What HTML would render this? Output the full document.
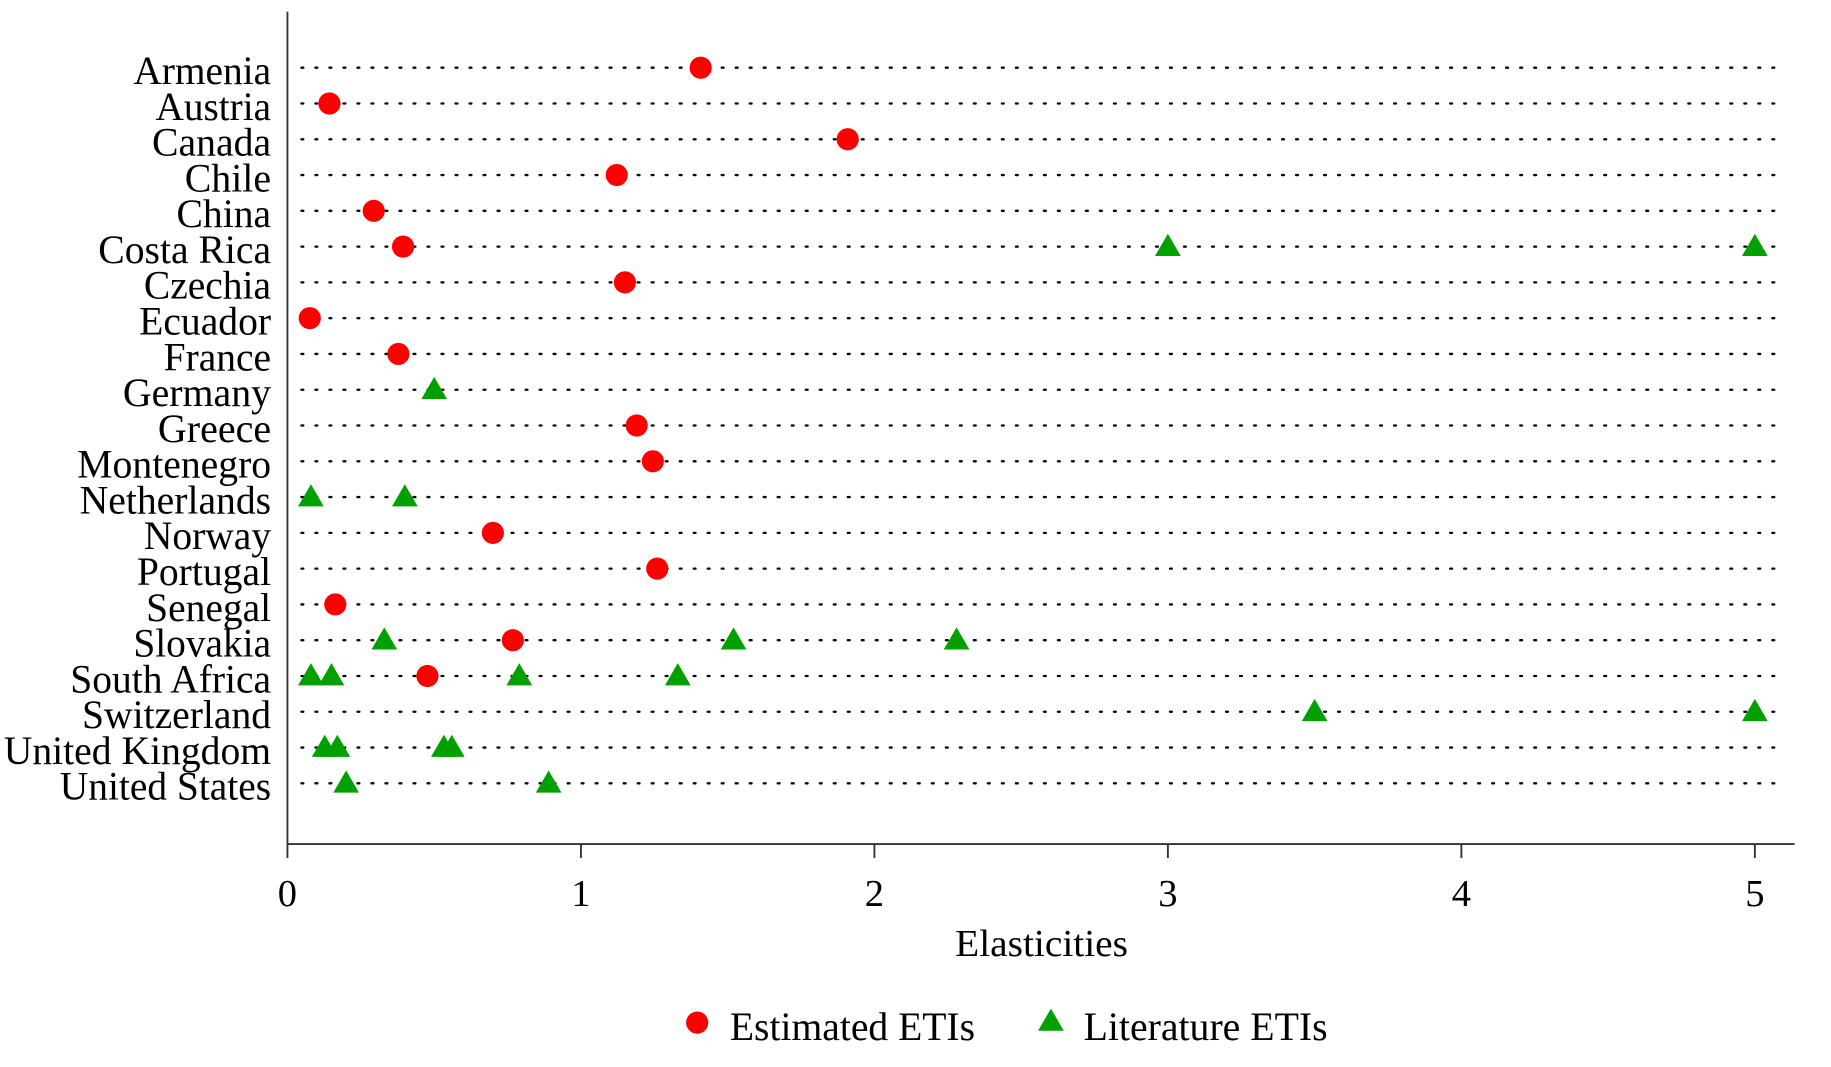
<!DOCTYPE html>
<html><head><meta charset="utf-8"><style>
html,body{margin:0;padding:0;background:#fff;}
svg{display:block;}
text{font-family:"Liberation Serif",serif;fill:#000;}
</style></head><body>
<svg width="1831" height="1067" viewBox="0 0 1568 914" xmlns="http://www.w3.org/2000/svg">
<g id="lines" stroke="#000" stroke-width="2" stroke-dasharray="1.6 10.4" stroke-linecap="round"></g>
<line x1="246" y1="10" x2="246" y2="723" stroke="#333" stroke-width="1.6"/>
<line x1="246" y1="723" x2="1537" y2="723" stroke="#333" stroke-width="1.6"/>
<g stroke="#333" stroke-width="1.6">
<line x1="246" y1="723" x2="246" y2="735"/><line x1="497.4" y1="723" x2="497.4" y2="735"/>
<line x1="748.8" y1="723" x2="748.8" y2="735"/><line x1="1000.2" y1="723" x2="1000.2" y2="735"/>
<line x1="1251.6" y1="723" x2="1251.6" y2="735"/><line x1="1503" y1="723" x2="1503" y2="735"/>
</g>
<g font-size="33" text-anchor="middle">
<text x="246" y="776">0</text><text x="497.4" y="776">1</text><text x="748.8" y="776">2</text>
<text x="1000.2" y="776">3</text><text x="1251.6" y="776">4</text><text x="1503" y="776">5</text>
<text x="892" y="819" textLength="148" lengthAdjust="spacingAndGlyphs">Elasticities</text>
</g>
<g id="labels" font-size="34"></g>
<g id="pts"></g>
<circle cx="597" cy="876" r="9.5" fill="#ff0000"/>
<text x="625" y="891" font-size="34" textLength="210" lengthAdjust="spacingAndGlyphs">Estimated ETIs</text>
<polygon points="900,864 889,883 911,883" fill="#00a000"/>
<text x="928" y="891" font-size="34" textLength="209" lengthAdjust="spacingAndGlyphs">Literature ETIs</text>
</svg>
<script>
const rows=[
["Armenia",114,[1.408],[]],["Austria",133,[0.143],[]],["Canada",130,[1.909],[]],["Chile",158,[1.122],[]],
["China",151,[0.294],[]],["Costa Rica",84,[0.394],[3,5]],["Czechia",123,[1.15],[]],["Ecuador",119,[0.076],[]],
["France",140,[0.378],[]],["Germany",105,[],[0.5]],["Greece",135,[1.19],[]],["Montenegro",66,[1.245],[]],
["Netherlands",68,[],[0.08,0.40]],["Norway",123,[0.70],[]],["Portugal",117,[1.26],[]],["Senegal",125,[0.163],[]],
["Slovakia",114,[0.768],[0.33,1.52,2.28]],["South Africa",60,[0.477],[0.08,0.15,0.79,1.33]],
["Switzerland",70,[],[3.5,5]],["United Kingdom",3,[],[0.127,0.17,0.533,0.56]],["United States",51,[],[0.2,0.89]]];
const NS="http://www.w3.org/2000/svg";
const L=document.getElementById("lines"),T=document.getElementById("labels"),P=document.getElementById("pts");
function el(t,a,p){const e=document.createElementNS(NS,t);for(const k in a)e.setAttribute(k,a[k]);p.appendChild(e);return e;}
const X=v=>246+v*251.4;
rows.forEach((r,i)=>{
 const y=58+i*30.65;
 el("line",{x1:258,y1:y,x2:1528,y2:y},L);
 const t=el("text",{x:r[1],y:y+14,textLength:232-r[1],lengthAdjust:"spacingAndGlyphs"},T);t.textContent=r[0];
 r[2].forEach(v=>el("circle",{cx:X(v),cy:y,r:9.5,fill:"#ff0000"},P));
 r[3].forEach(v=>{const x=X(v);el("polygon",{points:`${x},${y-11} ${x-11},${y+8} ${x+11},${y+8}`,fill:"#00a000"},P);});
});
</script>
</body></html>
